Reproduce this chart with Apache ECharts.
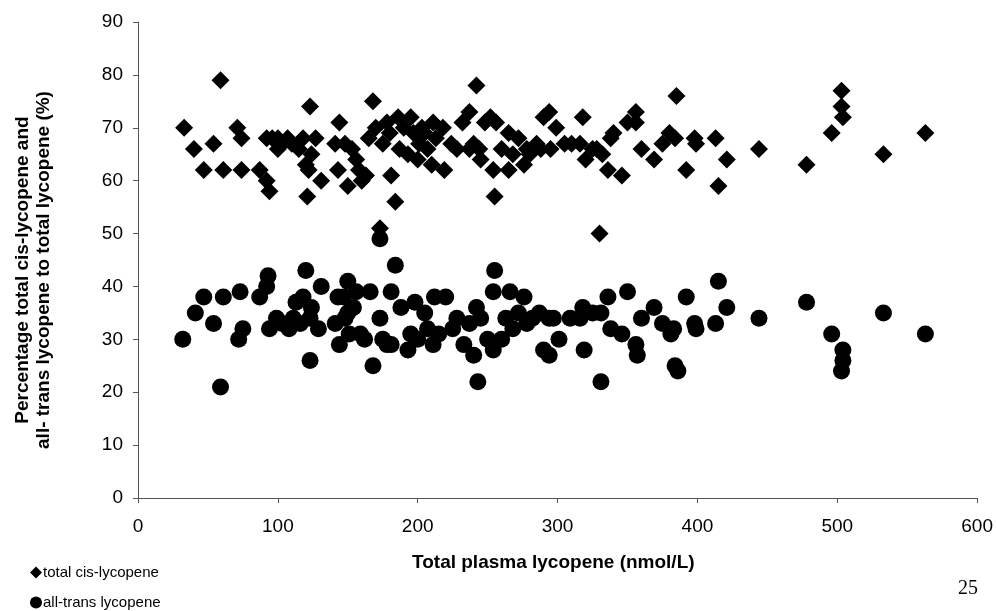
<!DOCTYPE html>
<html>
<head>
<meta charset="utf-8">
<title>Lycopene scatter</title>
<script src="https://cdn.jsdelivr.net/npm/echarts@6/dist/echarts.min.js"></script>
<style>
  html, body { margin: 0; padding: 0; background: #fff; }
  #main { width: 996px; height: 611px; }
</style>
</head>
<body>
<div id="main"></div>
<script>
// total cis-lycopene (%) vs total plasma lycopene (nmol/L)
var cisX = [33,40,47,54,59,61,71,74,74,87,92,94,92,96,100,100,103,107,110,115,118,120,121,122,123,124,127,131,141,144,143,148,150,153,156,158,160,163,165,168,170,173,175,178,180,181,184,186,187,190,193,195,197,200,201,203,205,207,210,211,213,218,219,224,228,232,237,237,242,240,244,245,248,252,254,255,256,260,265,265,268,272,276,278,280,285,288,290,294,295,299,305,310,316,318,320,325,328,330,332,336,338,340,346,350,356,356,360,369,375,380,384,385,392,398,399,413,415,421,444,478,496,503,503,504,533,563];
var cisY = [70,66,62,67,79,62,70,68,62,62,60,58,68,68,68,66,67,68,67,66,68,63,57,62,74,65,68,60,67,71,62,67,59,66,64,62,60,61,68,75,70,51,67,71,69,61,56,72,66,70,65,72,69,64,67,70,69,66,63,71,68,70,62,67,66,71,73,66,78,67,66,64,71,72,62,57,71,66,69,62,65,68,63,66,65,67,66,72,73,66,70,67,67,67,72,64,66,66,50,65,62,68,69,61,71,73,71,66,64,67,69,68,76,62,68,67,68,59,64,66,63,69,77,74,72,65,69];

// all-trans lycopene (%) vs total plasma lycopene (nmol/L)
var transX = [32,41,47,54,59,61,72,73,75,87,92,93,94,99,103,108,111,113,116,118,120,123,123,124,129,131,141,143,144,147,150,150,148,151,154,156,159,162,166,168,173,173,175,178,181,181,184,188,193,195,198,200,205,207,211,212,215,220,225,228,233,237,240,243,242,245,250,254,254,255,260,263,266,268,272,276,278,282,287,290,294,294,297,301,309,316,318,319,325,331,331,336,338,346,350,356,357,360,369,375,381,383,384,386,392,398,399,413,415,421,444,478,496,504,504,503,533,563];
var transY = [30,35,38,33,21,38,30,39,32,38,40,42,32,34,33,32,34,37,33,38,43,34,26,36,32,40,33,38,29,38,41,35,34,31,36,39,31,30,39,25,34,49,30,29,39,29,44,36,28,31,37,30,35,32,29,38,31,38,32,34,29,33,27,22,36,34,30,28,39,43,30,34,39,32,35,38,33,34,35,28,27,34,34,30,34,34,36,28,35,35,22,38,32,31,39,29,27,34,36,33,31,32,25,24,38,33,32,33,41,36,34,37,31,28,26,24,35,31];

var yTicks = [0, 10, 20, 30, 40, 50, 60, 70, 80, 90];
var xTicks = [0, 100, 200, 300, 400, 500, 600];

function pairs(xs, ys) {
    var out = [];
    for (var i = 0; i < xs.length; i++) {
        out.push([xs[i], ys[i]]);
    }
    return out;
}

var myChart = echarts.init(document.getElementById('main'));

var labelFont = 'Arial, "Liberation Sans", sans-serif';

// one legend per row, so the two entries stack like the original
function legendRow(top, name, icon) {
    return {
        left: 30,
        top: top,
        padding: 0,
        itemWidth: 12,
        itemHeight: 12,
        textStyle: { fontFamily: labelFont, fontSize: 15, color: '#000', padding: [0, 0, 0, -4] },
        data: [{ name: name, icon: icon }]
    };
}

var option = {
    backgroundColor: '#fff',
    animation: false,
    grid: {
        left: 138,
        right: 18,
        top: 22,
        bottom: 113
    },
    legend: [
        legendRow(565, 'total cis-lycopene', 'diamond'),
        legendRow(595, 'all-trans lycopene', 'circle')
    ],
    xAxis: {
        type: 'value',
        min: xTicks[0],
        max: xTicks[xTicks.length - 1],
        interval: 100,
        splitLine: { show: false },
        axisLine: { onZero: false, lineStyle: { color: '#555', width: 1 } },
        axisTick: { show: true, inside: false, length: 5, lineStyle: { color: '#555' } },
        axisLabel: { fontFamily: labelFont, fontSize: 19, color: '#000', margin: 19 }
    },
    yAxis: {
        type: 'value',
        min: yTicks[0],
        max: yTicks[yTicks.length - 1],
        interval: 10,
        splitLine: { show: false },
        axisLine: { show: true, lineStyle: { color: '#555', width: 1 } },
        axisTick: { show: true, inside: false, length: 5, lineStyle: { color: '#555' } },
        axisLabel: { fontFamily: labelFont, fontSize: 19, color: '#000', margin: 15 }
    },
    graphic: [
        {
            type: 'text',
            left: 412,
            top: 553,
            style: {
                text: 'Total plasma lycopene (nmol/L)',
                font: 'bold 19px ' + labelFont,
                fill: '#000'
            }
        },
        {
            type: 'text',
            x: 33,
            y: 270,
            rotation: Math.PI / 2,
            style: {
                text: 'Percentage total cis-lycopene and\nall- trans lycopene to total lycopene (%)',
                font: 'bold 19px ' + labelFont,
                fill: '#000',
                align: 'center',
                verticalAlign: 'middle',
                lineHeight: 21
            }
        },
        {
            type: 'text',
            left: 958,
            top: 579,
            style: {
                text: '25',
                font: '20px "Liberation Serif", "Times New Roman", serif',
                fill: '#000'
            }
        }
    ],
    series: [
        {
            name: 'total cis-lycopene',
            type: 'scatter',
            symbol: 'diamond',
            symbolSize: 18,
            itemStyle: { color: '#000', opacity: 1 },
            data: pairs(cisX, cisY)
        },
        {
            name: 'all-trans lycopene',
            type: 'scatter',
            symbol: 'circle',
            symbolSize: 17,
            itemStyle: { color: '#000', opacity: 1 },
            data: pairs(transX, transY)
        }
    ]
};

myChart.setOption(option);
</script>
</body>
</html>
